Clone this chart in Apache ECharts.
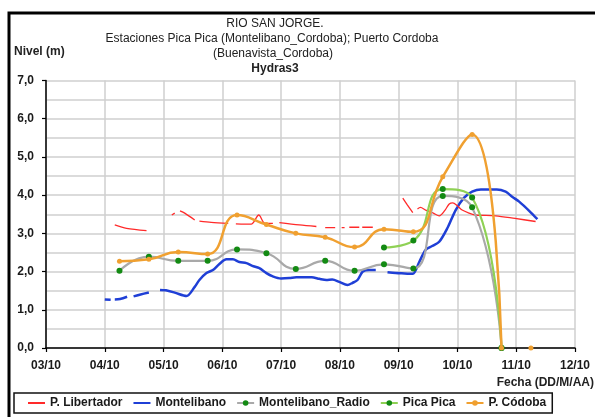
<!DOCTYPE html>
<html><head><meta charset="utf-8">
<script src="https://cdn.jsdelivr.net/npm/echarts@6/dist/echarts.min.js"></script>
<style>html,body{margin:0;padding:0;background:#fff}#c{width:595px;height:417px}</style>
</head><body><div id="c"></div>
<script>
// ---- data ----
const xTickLabels = ['03/10','04/10','05/10','06/10','07/10','08/10','09/10','10/10','11/10','12/10'];
const yTickLabels = ['0,0','1,0','2,0','3,0','4,0','5,0','6,0','7,0'];

const libertadorX = [4.17,4.37,4.71,4.9,5.14,5.19,5.23,5.28,5.36,5.53,5.57,5.61,5.81,6.10,6.17,6.23,6.49,6.62,6.72,6.86,6.92,6.97,7.31,7.60,7.68,7.75,7.92,7.98,8.03,8.08,8.12,8.16,8.33,8.36,8.38,8.56,8.8,9.07,9.15,9.24,9.28,9.32,9.37,9.46,9.59,9.69,9.79,9.86,9.92,10.00,10.08,10.20,10.31,10.65,10.98,11.33];
const libertadorY = [3.22,3.13,3.07,null,3.48,3.53,null,3.59,3.53,3.35,null,3.32,3.29,3.26,null,3.25,3.24,3.48,3.27,3.26,null,3.28,3.22,3.18,null,3.15,3.15,null,3.15,3.15,null,3.16,3.16,null,3.16,3.16,null,3.92,3.74,3.54,null,3.64,3.68,3.61,3.53,3.46,3.61,3.77,3.80,3.72,3.61,3.53,3.48,3.46,3.39,3.31];

const montelibanoX = [4.00,4.10,4.13,4.17,4.26,4.38,4.43,4.49,4.61,4.75,4.85,4.94,5.04,5.19,5.39,5.53,5.61,5.73,5.84,5.95,6.07,6.18,6.29,6.41,6.51,6.63,6.75,6.85,7.00,7.14,7.26,7.40,7.52,7.65,7.77,7.87,7.99,8.13,8.21,8.30,8.39,8.50,8.61,8.70,8.81,8.95,9.10,9.24,9.35,9.46,9.57,9.69,9.83,9.97,10.11,10.25,10.40,10.54,10.67,10.82,10.93,11.05,11.22,11.36];
const montelibanoY = [1.27,1.26,null,1.27,1.28,1.34,null,1.35,1.40,1.45,null,1.52,1.51,1.45,1.36,1.60,1.78,1.96,2.04,2.20,2.32,2.32,2.25,2.22,2.15,2.09,1.96,1.88,1.82,1.83,1.85,1.85,1.85,1.81,1.78,1.79,1.73,1.65,1.70,1.78,2.00,2.04,2.04,null,1.98,1.96,1.95,1.94,2.25,2.57,2.67,2.78,3.14,3.61,3.93,4.09,4.15,4.15,4.15,4.09,3.96,3.83,3.59,3.37];

const radioX = [4.25,4.75,5.25,5.75,6.25,6.75,7.25,7.75,8.25,8.75,9.25,9.75,10.25,10.75];
const radioY = [2.02,2.39,2.28,2.28,2.58,2.48,2.07,2.28,2.02,2.19,2.08,3.98,3.68,0];

const picaX = [8.75,9.25,9.75,10.25,10.75];
const picaY = [2.63,2.81,4.16,3.94,0];

const cordobaX = [4.25,4.75,5.25,5.75,6.25,6.75,7.25,7.75,8.25,8.75,9.25,9.75,10.25,10.75,11.0,11.25];
const cordobaY = [2.27,2.32,2.51,2.46,3.48,3.23,3.00,2.90,2.64,3.11,3.04,4.48,5.59,0,null,0];

// ---- helpers ----
function pairs(xs, ys){ return xs.map((x,i)=>[x, ys[i]===null ? '-' : ys[i]]); }
const FONT = '"Liberation Sans", Arial, sans-serif';

const chart = echarts.init(document.getElementById('c'), null, {renderer:'canvas'});
const grid = '#CFCFCF';
const noDot = {color:'rgba(0,0,0,0)', opacity:0, borderWidth:0};
chart.setOption({
  animation:false,
  backgroundColor:'#fff',
  grid:{left:46, right:20, top:80.5, bottom:69, containLabel:false},
  xAxis:{
    type:'value', min:3, max:12, interval:1,
    axisLine:{show:true, onZero:false, lineStyle:{color:'#000', width:1.5}},
    axisTick:{show:true, inside:false, length:4, lineStyle:{color:'#000', width:1.2}},
    axisLabel:{margin:12, color:'#1a1a1a', fontFamily:FONT, fontWeight:'bold', fontSize:12,
      formatter:v=>xTickLabels[Math.round(v-3)]},
    splitLine:{show:true, lineStyle:{color:grid, width:1.5}}
  },
  yAxis:{
    type:'value', min:0, max:7, interval:1,
    axisLine:{show:true, lineStyle:{color:'#000', width:1.5}},
    axisTick:{show:true, length:4, lineStyle:{color:'#000', width:1.2}},
    minorTick:{show:false, splitNumber:2},
    minorSplitLine:{show:true, lineStyle:{color:grid, width:1.5}},
    axisLabel:{margin:12, color:'#1a1a1a', fontFamily:FONT, fontWeight:'bold', fontSize:12,
      formatter:v=>yTickLabels[Math.round(v)]},
    splitLine:{show:true, lineStyle:{color:grid, width:1.5}}
  },
  legend:{
    left:14, top:393, orient:'horizontal',
    padding:[4,6,4,13], itemGap:10, itemWidth:17, itemHeight:7,
    borderColor:'#111', borderWidth:1.5,
    textStyle:{fontFamily:FONT, fontWeight:'bold', fontSize:12, color:'#1a1a1a'},
    data:[{name:'P. Libertador', itemStyle:noDot},{name:'Montelibano', itemStyle:noDot},'Montelibano_Radio','Pica Pica','P. Códoba']
  },
  graphic:[
    {type:'rect', shape:{x:9, y:13, width:600, height:420}, style:{fill:'none', stroke:'#000', lineWidth:3}, silent:true, z:-1},
    {type:'text', style:{text:'RIO SAN JORGE.', x:275, y:18, textAlign:'center', font:'12px '+FONT, fill:'#222'}},
    {type:'text', style:{text:'Estaciones Pica Pica (Montelibano_Cordoba); Puerto Cordoba', x:272, y:33, textAlign:'center', font:'12px '+FONT, fill:'#222'}},
    {type:'text', style:{text:'(Buenavista_Cordoba)', x:273, y:48, textAlign:'center', font:'12px '+FONT, fill:'#222'}},
    {type:'text', style:{text:'Hydras3', x:275, y:62.5, textAlign:'center', font:'bold 12px '+FONT, fill:'#222'}},
    {type:'text', style:{text:'Nivel (m)', x:14, y:46, font:'bold 12px '+FONT, fill:'#222'}},
    {type:'text', style:{text:'Fecha (DD/M/AA)', x:594, y:377, textAlign:'right', font:'bold 12px '+FONT, fill:'#222'}}
  ],
  series:[
    {name:'P. Libertador', type:'line', data:pairs(libertadorX, libertadorY), smooth:0.3, symbol:'none', connectNulls:false,
      lineStyle:{color:'#FF2A2A', width:1.3}, itemStyle:{color:'#FF2A2A'}, z:3},
    {name:'Montelibano', type:'line', data:pairs(montelibanoX, montelibanoY), smooth:0.3, symbol:'none', connectNulls:false,
      lineStyle:{color:'#1F3FD6', width:2.5}, itemStyle:{color:'#1F3FD6'}, z:2},
    {name:'Montelibano_Radio', type:'line', data:pairs(radioX, radioY), smooth:0.5, symbol:'circle', symbolSize:6, showAllSymbol:true,
      lineStyle:{color:'#A9A9A9', width:2.2}, itemStyle:{color:'#138A13', borderWidth:0}, z:4},
    {name:'Pica Pica', type:'line', data:pairs(picaX, picaY), smooth:0.5, symbol:'circle', symbolSize:6, showAllSymbol:true,
      lineStyle:{color:'#8FD155', width:2.2}, itemStyle:{color:'#138A13', borderWidth:0}, z:5},
    {name:'P. Códoba', type:'line', data:pairs(cordobaX, cordobaY), smooth:0.5, symbol:'circle', symbolSize:5, showAllSymbol:true, connectNulls:false,
      lineStyle:{color:'#F0A030', width:2.5}, itemStyle:{color:'#F0A030', borderWidth:0}, z:6}
  ]
});
</script></body></html>
